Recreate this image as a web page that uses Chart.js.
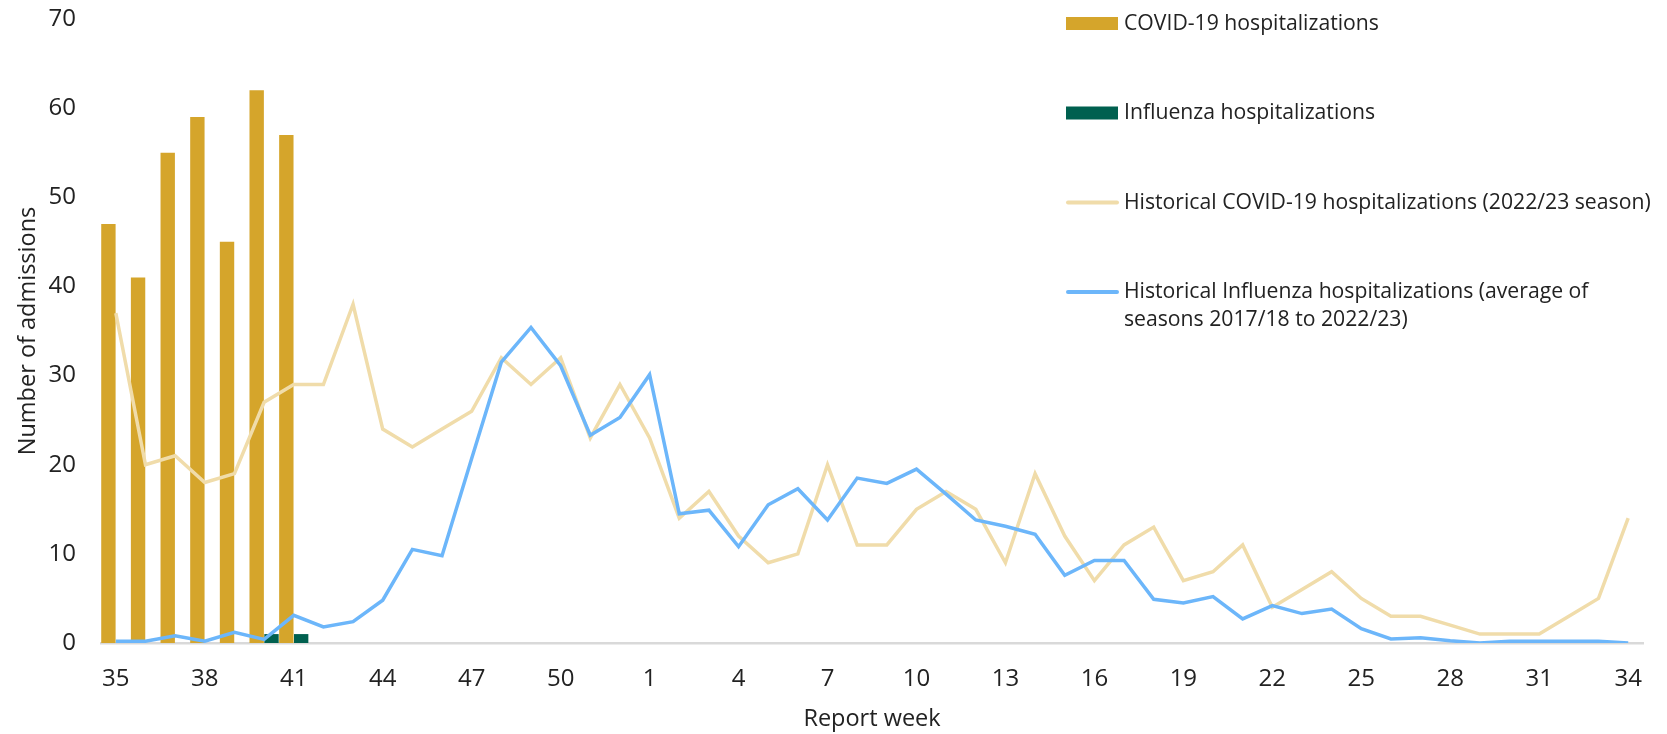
<!DOCTYPE html>
<html>
<head>
<meta charset="utf-8">
<script src="https://cdn.jsdelivr.net/npm/chart.js@4.4.1/dist/chart.umd.min.js"></script>
<style>
  html, body { margin: 0; padding: 0; background: #fff; }
  #wrap { width: 1667px; height: 734px; }
</style>
</head>
<body>
<div id="wrap"><canvas id="chart" width="1667" height="734"></canvas></div>
<script>
// report weeks, season runs from week 35 to week 34 of the next year
const weekLabels = ['35', '36', '37', '38', '39', '40', '41', '42', '43', '44', '45', '46', '47', '48', '49', '50', '51', '52',
    '1', '2', '3', '4', '5', '6', '7', '8', '9', '10', '11', '12', '13', '14', '15', '16', '17',
    '18', '19', '20', '21', '22', '23', '24', '25', '26', '27', '28', '29', '30', '31', '32', '33', '34'];

// current season (weeks 35-41 so far)
const covidHosp = [47, 41, 55, 59, 45, 62, 57];
const fluHosp = [0, 0, 0, 0, 0, 1, 1];

// historical series, one value per week
const histCovid = [37, 20, 21, 18, 19, 27, 29, 29, 38, 24, 22, 24, 26, 32, 29, 32, 23, 29,
    23, 14, 17, 12, 9, 10, 20, 11, 11, 15, 17, 15, 9, 19, 12, 7, 11,
    13, 7, 8, 11, 4, 6, 8, 5, 3, 3, 2, 1, 1, 1, 3, 5, 14];
const histFlu = [0.2, 0.2, 0.8, 0.2, 1.2, 0.4, 3.1, 1.8, 2.4, 4.8, 10.5, 9.8, 20.7, 31.5, 35.4, 31.1, 23.3, 25.3,
    30.1, 14.5, 14.9, 10.8, 15.5, 17.3, 13.8, 18.5, 17.9, 19.5, 16.7, 13.8, 13.1, 12.2, 7.6, 9.25, 9.25,
    4.9, 4.5, 5.2, 2.7, 4.2, 3.3, 3.8, 1.6, 0.45, 0.6, 0.25, 0, 0.2, 0.2, 0.2, 0.2, 0];

const FONT = "'Open Sans', 'Noto Sans', sans-serif";
const TEXT_COLOR = '#222222';

function wrapText(ctx, text, maxWidth) {
    const words = text.split(' ');
    const lines = [];
    let line = '';
    words.forEach(w => {
        const test = line ? line + ' ' + w : w;
        if (ctx.measureText(test).width > maxWidth && line) {
            lines.push(line);
            line = w;
        } else {
            line = test;
        }
    });
    if (line) lines.push(line);
    return lines;
}

// legend stacked in the top right, over the plot area
const sideLegend = {
    id: 'sideLegend',
    afterDraw(chart, args, opts) {
        const ctx = chart.ctx;
        ctx.save();
        ctx.font = opts.font;
        ctx.textBaseline = 'middle';
        ctx.textAlign = 'left';
        chart.data.datasets.forEach((ds, i) => {
            const y = opts.top + i * opts.rowGap;
            if (ds.type === 'line') {
                ctx.strokeStyle = ds.borderColor;
                ctx.lineWidth = 4;
                ctx.lineCap = 'round';
                ctx.beginPath();
                ctx.moveTo(opts.left + 2, y);
                ctx.lineTo(opts.left + opts.boxWidth - 1, y);
                ctx.stroke();
            } else {
                ctx.fillStyle = ds.backgroundColor;
                ctx.fillRect(opts.left, y - opts.boxHeight / 2, opts.boxWidth, opts.boxHeight);
            }
            ctx.fillStyle = opts.color;
            const lines = wrapText(ctx, ds.label, opts.maxWidth);
            lines.forEach((ln, j) => {
                ctx.fillText(ln, opts.left + opts.boxWidth + opts.gap, y + j * opts.lineHeight);
            });
        });
        ctx.restore();
    }
};

const ctx = document.getElementById('chart').getContext('2d');

const chart = new Chart(ctx, {
    type: 'bar',
    data: {
        labels: weekLabels,
        datasets: [
            {
                label: 'COVID-19 hospitalizations',
                data: covidHosp,
                backgroundColor: '#D5A52B',
                barPercentage: 0.97,
                categoryPercentage: 1,
                order: 3
            },
            {
                label: 'Influenza hospitalizations',
                data: fluHosp,
                backgroundColor: '#00604F',
                barPercentage: 0.97,
                categoryPercentage: 1,
                order: 3
            },
            {
                type: 'line',
                label: 'Historical COVID-19 hospitalizations (2022/23 season)',
                data: histCovid,
                borderColor: '#F0DCAA',
                borderWidth: 3.5,
                pointRadius: 0,
                tension: 0,
                order: 2
            },
            {
                type: 'line',
                label: 'Historical Influenza hospitalizations (average of seasons 2017/18 to 2022/23)',
                data: histFlu,
                borderColor: '#6CB6FA',
                borderWidth: 3.5,
                pointRadius: 0,
                tension: 0,
                order: 1
            }
        ]
    },
    options: {
        responsive: false,
        animation: false,
        devicePixelRatio: 1,
        layout: {
            padding: { top: 19, right: 24, left: 0, bottom: 0 }
        },
        plugins: {
            legend: { display: false },
            tooltip: { enabled: false },
            sideLegend: {
                left: 1066,
                top: 23.5,
                rowGap: 89.5,
                boxWidth: 52,
                boxHeight: 13,
                gap: 6,
                lineHeight: 28,
                maxWidth: 535,
                font: "21.2px " + FONT,
                color: TEXT_COLOR
            }
        },
        scales: {
            x: {
                offset: true,
                grid: { display: false, drawTicks: false },
                border: { display: true, color: '#D9D9D9', width: 2.5 },
                ticks: {
                    autoSkip: false,
                    maxRotation: 0,
                    padding: 22,
                    color: TEXT_COLOR,
                    font: { family: FONT, size: 24 },
                    callback: function(value, index) {
                        return index % 3 === 0 ? this.getLabelForValue(value) : '';
                    }
                },
                title: {
                    display: true,
                    text: 'Report week',
                    color: TEXT_COLOR,
                    font: { family: FONT, size: 23.5 },
                    padding: { top: 0, bottom: 1 }
                },
                afterFit: scale => { scale.height = 91; }
            },
            y: {
                min: 0,
                max: 70,
                // tick marks are hidden, their length only spaces the labels from the plot
                grid: { display: false, drawTicks: true, tickLength: 25 },
                border: { display: false },
                ticks: {
                    stepSize: 10,
                    padding: 0,
                    color: TEXT_COLOR,
                    font: { family: FONT, size: 24 }
                },
                title: {
                    display: true,
                    text: 'Number of admissions',
                    color: TEXT_COLOR,
                    font: { family: FONT, size: 23.5 },
                    padding: { top: 14, bottom: 0 }
                },
                afterFit: scale => { scale.width = 101; }
            }
        }
    },
    plugins: [sideLegend]
});
</script>
</body>
</html>
